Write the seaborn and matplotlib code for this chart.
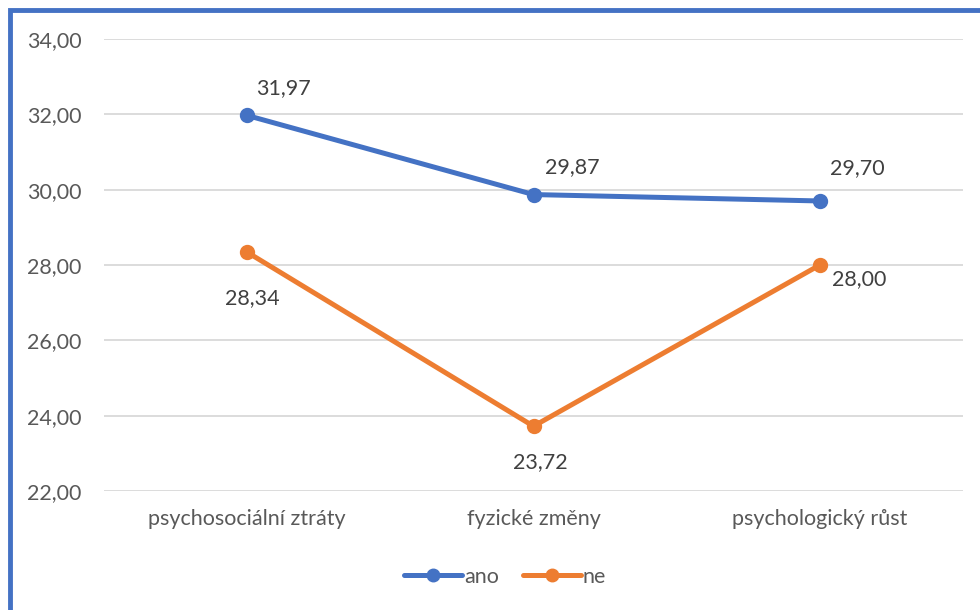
import matplotlib
matplotlib.use("Agg")
import matplotlib.pyplot as plt
import seaborn as sns
import pandas as pd
from matplotlib.patches import Rectangle

kategorie = ["psychosociální ztráty", "fyzické změny", "psychologický růst"]
ano = [31.97, 29.87, 29.70]
ne = [28.34, 23.72, 28.00]
skupiny = ["ano", "ne"]
barvy = {"ano": "#4472C4", "ne": "#ED7D31"}
y_ticks = [22, 24, 26, 28, 30, 32, 34]

df = pd.DataFrame({
    "kategorie": kategorie * 2,
    "skore": ano + ne,
    "skupina": ["ano"] * len(ano) + ["ne"] * len(ne),
})

sns.set_theme(style="white")
plt.rcParams["font.family"] = ["Lato", "DejaVu Sans"]
text_color = "#595959"
fs = 15.5

fig = plt.figure(figsize=(9.8, 6.1), dpi=100)
ax = fig.add_axes([104 / 980, 1 - 491 / 610, (963 - 104) / 980, (491 - 39) / 610])

sns.pointplot(data=df, x="kategorie", y="skore", hue="skupina", order=kategorie,
              hue_order=skupiny, palette=barvy, markers="o", linestyles="-",
              dodge=False, errorbar=None, ax=ax, legend=False)
for line in ax.lines:
    line.set_linewidth(3.6)
    line.set_markersize(9)
    line.set_solid_capstyle("round")
for coll in ax.collections:
    coll.set_sizes([110])

ax.set_xlim(-0.5, 2.5)
ax.set_ylim(22, 34)
ax.set_yticks(y_ticks)
ax.set_yticklabels([f"{v:.2f}".replace(".", ",") for v in y_ticks])
ax.yaxis.grid(True, color="#D9D9D9", linewidth=1.3)
ax.set_axisbelow(True)
for s in ax.spines.values():
    s.set_visible(False)
ax.set_xlabel("")
ax.set_ylabel("")
ax.tick_params(axis="both", length=0, colors=text_color, labelsize=fs)
ax.tick_params(axis="y", pad=16)
ax.tick_params(axis="x", pad=13)

# value labels (offsets in points)
offs_ano = [(26, 20), (28, 20), (27, 24)]
offs_ne = [(4, -33), (5, -26), (28, -10)]
for i, (v, o) in enumerate(zip(ano, offs_ano)):
    ax.annotate(f"{v:.2f}".replace(".", ","), (i, v), xytext=o, textcoords="offset points",
                ha="center", va="center", fontsize=fs, color="#404040")
for i, (v, o) in enumerate(zip(ne, offs_ne)):
    ax.annotate(f"{v:.2f}".replace(".", ","), (i, v), xytext=o, textcoords="offset points",
                ha="center", va="center", fontsize=fs, color="#404040")

handles = [plt.Line2D([], [], color=barvy[k], lw=3.6, marker="o", markersize=9,
                      solid_capstyle="round") for k in skupiny]
fig.legend(handles, skupiny, loc="center", bbox_to_anchor=(505 / 980, 1 - 577 / 610),
           ncol=2, frameon=False, fontsize=fs, handlelength=2.7, handletextpad=0.1,
           columnspacing=1.1, labelcolor=text_color)

# chart frame
fig.patches.append(Rectangle((10 / 980, -0.1), 1.2, 1 - 10 / 610 + 0.1, transform=fig.transFigure,
                             fill=False, edgecolor="#4472C4", linewidth=3.5, zorder=10))

fig.savefig("out.png", dpi=100)
